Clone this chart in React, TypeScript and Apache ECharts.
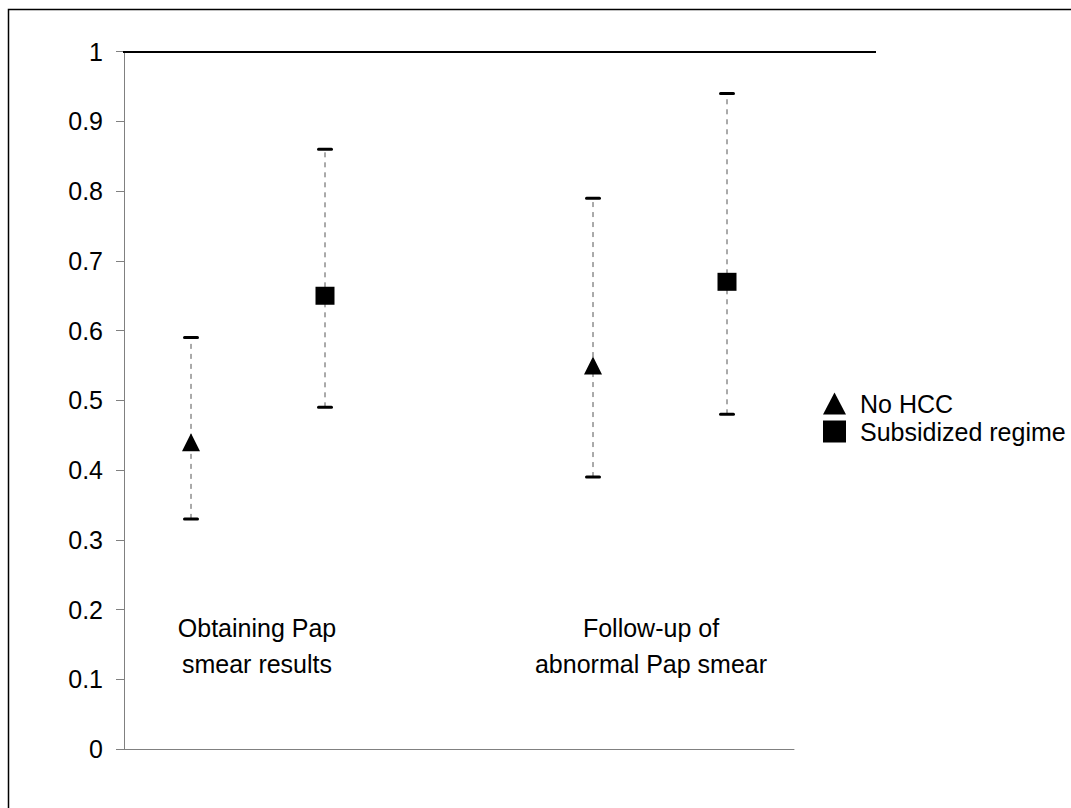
import React, { useEffect, useRef } from "react";
import * as echarts from "echarts";

const seriesNames = ["No HCC", "Subsidized regime"];
const groupLabels = ["Obtaining Pap\nsmear results", "Follow-up of\nabnormal Pap smear"];
const yTicks = ["0", "0.1", "0.2", "0.3", "0.4", "0.5", "0.6", "0.7", "0.8", "0.9", "1"];

// x positions on a 0..10 value axis
const noHccX = [1, 7];
const noHccMean = [0.44, 0.55];
const noHccLow = [0.33, 0.39];
const noHccHigh = [0.59, 0.79];

const subsX = [3, 9];
const subsMean = [0.65, 0.67];
const subsLow = [0.49, 0.48];
const subsHigh = [0.86, 0.94];

const FONT = '"Liberation Sans", Arial, sans-serif';

function errorRender(params: any, api: any) {
  const x = api.value(0);
  const lo = api.coord([x, api.value(1)]);
  const hi = api.coord([x, api.value(2)]);
  const half = 6.5;
  return {
    type: "group",
    children: [
      {
        type: "line",
        shape: { x1: lo[0], y1: lo[1], x2: hi[0], y2: hi[1] },
        style: { stroke: "#555", lineWidth: 1, lineDash: [5, 5] },
      },
      {
        type: "line",
        shape: { x1: lo[0] - half, y1: lo[1], x2: lo[0] + half, y2: lo[1] },
        style: { stroke: "#000", lineWidth: 3, lineCap: "round" },
      },
      {
        type: "line",
        shape: { x1: hi[0] - half, y1: hi[1], x2: hi[0] + half, y2: hi[1] },
        style: { stroke: "#000", lineWidth: 3, lineCap: "round" },
      },
    ],
  };
}

export default function App() {
  const ref = useRef<HTMLDivElement>(null);
  useEffect(() => {
    if (!ref.current) return;
    const chart = echarts.init(ref.current, null, { renderer: "svg" });
    const errData = [
      ...noHccX.map((x, i) => [x, noHccLow[i], noHccHigh[i]]),
      ...subsX.map((x, i) => [x, subsLow[i], subsHigh[i]]),
    ];
    const labelStyle = {
      font: `25px ${FONT}`,
      fill: "#000",
      align: "center",
      verticalAlign: "middle",
      lineHeight: 36,
    };
    chart.setOption({
      animation: false,
      backgroundColor: "#fff",
      textStyle: { fontFamily: FONT },
      grid: { left: 124, top: 51.7, width: 670, height: 697.3 },
      xAxis: {
        type: "value",
        min: 0,
        max: 10,
        axisLine: { show: true, lineStyle: { color: "#808080", width: 1 } },
        axisTick: { show: false },
        axisLabel: { show: false },
        splitLine: { show: false },
      },
      yAxis: {
        type: "value",
        min: 0,
        max: 1,
        interval: 0.1,
        axisLine: { show: true, lineStyle: { color: "#808080", width: 1 } },
        axisTick: { show: true, length: 8, lineStyle: { color: "#808080" } },
        splitLine: { show: false },
        axisLabel: {
          margin: 21,
          color: "#000",
          fontSize: 25,
          fontFamily: FONT,
          formatter: (v: number) => yTicks[Math.round(v * 10)],
        },
      },
      legend: {
        orient: "vertical",
        left: 818,
        top: 386,
        itemWidth: 23,
        itemHeight: 22,
        itemGap: 3,
        data: seriesNames,
        itemStyle: { opacity: 1 },
        textStyle: { color: "#000", fontSize: 25, fontFamily: FONT, padding: [0, 0, 0, 9] },
      },
      graphic: [
        {
          type: "rect",
          shape: { x: 8.5, y: 9.5, width: 1100, height: 900 },
          style: { fill: "none", stroke: "#000", lineWidth: 1.5 },
          silent: true,
        },
        {
          type: "line",
          shape: { x1: 123, y1: 52, x2: 876, y2: 52 },
          style: { stroke: "#000", lineWidth: 2 },
          z: 10,
        },
        {
          type: "text",
          x: 257,
          y: 646,
          style: { ...labelStyle, text: groupLabels[0] },
        },
        {
          type: "text",
          x: 651,
          y: 646,
          style: { ...labelStyle, text: groupLabels[1] },
        },
      ],
      series: [
        {
          type: "custom",
          name: "err",
          renderItem: errorRender,
          data: errData,
          z: 1,
          silent: true,
        },
        {
          type: "scatter",
          name: seriesNames[0],
          symbol: "triangle",
          symbolSize: 18,
          itemStyle: { color: "#000", opacity: 1 },
          data: noHccX.map((x, i) => [x, noHccMean[i]]),
          z: 5,
        },
        {
          type: "scatter",
          name: seriesNames[1],
          symbol: "rect",
          symbolSize: [19, 18],
          itemStyle: { color: "#000", opacity: 1 },
          data: subsX.map((x, i) => [x, subsMean[i]]),
          z: 5,
        },
      ],
    });
    return () => chart.dispose();
  }, []);
  return (
    <div
      ref={ref}
      style={{ position: "fixed", left: 0, top: 0, width: 1071, height: 808, background: "#fff" }}
    />
  );
}
